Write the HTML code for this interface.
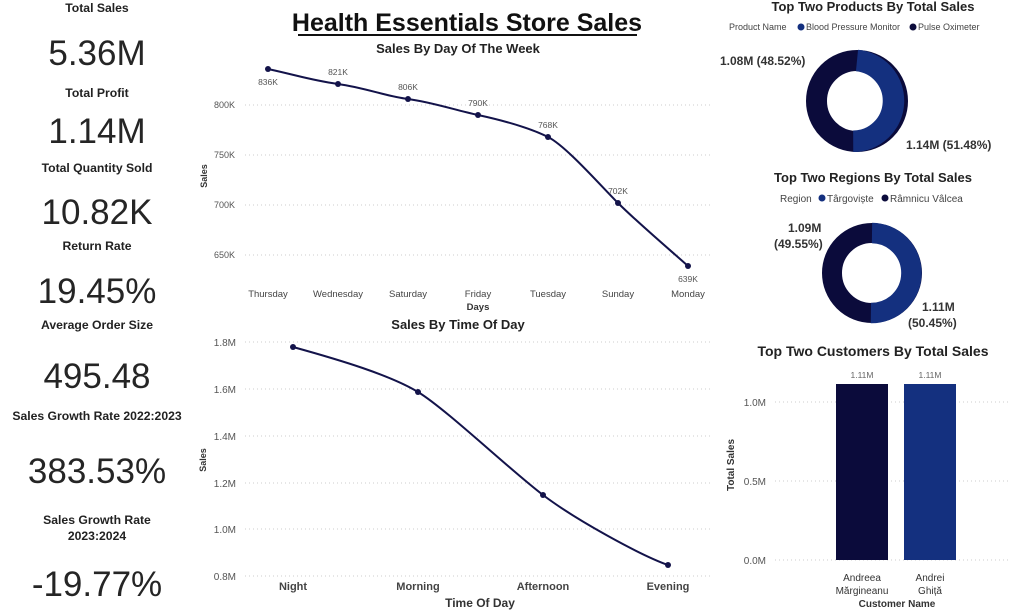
<!DOCTYPE html><html><head><style>body{margin:0;background:#fff}svg{display:block;font-family:"Liberation Sans",sans-serif}</style></head><body>
<svg width="1024" height="613" viewBox="0 0 1024 613">
<g text-anchor="middle" fill="#222">
<g font-weight="bold" font-size="12.2">
<text x="97" y="12">Total Sales</text><text x="97" y="97">Total Profit</text><text x="97" y="172">Total Quantity Sold</text><text x="97" y="250">Return Rate</text><text x="97" y="329">Average Order Size</text><text x="97" y="420">Sales Growth Rate 2022:2023</text><text x="97" y="524">Sales Growth Rate</text><text x="97" y="540">2023:2024</text></g>
<g font-size="35" fill="#252525">
<text x="97" y="65">5.36M</text><text x="97" y="143">1.14M</text><text x="97" y="224">10.82K</text><text x="97" y="303">19.45%</text><text x="97" y="388">495.48</text><text x="97" y="483">383.53%</text><text x="97" y="596">-19.77%</text></g>
<text x="467" y="31" font-size="25" font-weight="bold" fill="#111">Health Essentials Store Sales</text>
<line x1="298" y1="35" x2="637" y2="35" stroke="#111" stroke-width="2"/>
<text x="458" y="53" font-size="13" font-weight="bold">Sales By Day Of The Week</text>
<text x="458" y="329" font-size="13" font-weight="bold">Sales By Time Of Day</text>
<text x="873" y="11" font-size="13" font-weight="bold">Top Two Products By Total Sales</text>
<text x="873" y="182" font-size="13" font-weight="bold">Top Two Regions By Total Sales</text>
<text x="873" y="356" font-size="14" font-weight="bold">Top Two Customers By Total Sales</text>
</g>
<g font-size="9" fill="#555" text-anchor="end">
<text x="235" y="108">800K</text><text x="235" y="158">750K</text><text x="235" y="208">700K</text><text x="235" y="258">650K</text></g>
<g stroke="#ccc" stroke-dasharray="1,3"><line x1="245" y1="105" x2="710" y2="105"/><line x1="245" y1="155" x2="710" y2="155"/><line x1="245" y1="205" x2="710" y2="205"/><line x1="245" y1="255" x2="710" y2="255"/></g>
<text x="207" y="176" font-size="9" font-weight="bold" transform="rotate(-90 207 176)" text-anchor="middle" fill="#333">Sales</text>
<g font-size="9.5" fill="#444" text-anchor="middle">
<text x="268" y="297">Thursday</text><text x="338" y="297">Wednesday</text><text x="408" y="297">Saturday</text><text x="478" y="297">Friday</text><text x="548" y="297">Tuesday</text><text x="618" y="297">Sunday</text><text x="688" y="297">Monday</text>
<text x="478" y="310" font-weight="bold" fill="#333">Days</text></g>
<path d="M268 69 C300 76 310 80 338 84 S385 96 408 99 S455 110 478 115 S530 128 548 137 S600 185 618 203 S670 250 688 266" fill="none" stroke="#13134a" stroke-width="2"/>
<g fill="#13134a"><circle cx="268" cy="69" r="3"/><circle cx="338" cy="84" r="3"/><circle cx="408" cy="99" r="3"/><circle cx="478" cy="115" r="3"/><circle cx="548" cy="137" r="3"/><circle cx="618" cy="203" r="3"/><circle cx="688" cy="266" r="3"/></g>
<g font-size="8.5" fill="#555" text-anchor="middle"><text x="268" y="85">836K</text><text x="338" y="75">821K</text><text x="408" y="90">806K</text><text x="478" y="106">790K</text><text x="548" y="128">768K</text><text x="618" y="194">702K</text><text x="688" y="282">639K</text></g>
<g font-size="10" fill="#555" text-anchor="end">
<text x="236" y="346">1.8M</text><text x="236" y="393">1.6M</text><text x="236" y="440">1.4M</text><text x="236" y="487">1.2M</text><text x="236" y="533">1.0M</text><text x="236" y="580">0.8M</text></g>
<g stroke="#ccc" stroke-dasharray="1,3"><line x1="245" y1="342" x2="710" y2="342"/><line x1="245" y1="389" x2="710" y2="389"/><line x1="245" y1="436" x2="710" y2="436"/><line x1="245" y1="483" x2="710" y2="483"/><line x1="245" y1="529" x2="710" y2="529"/><line x1="245" y1="576" x2="710" y2="576"/></g>
<text x="206" y="460" font-size="9" font-weight="bold" transform="rotate(-90 206 460)" text-anchor="middle" fill="#333">Sales</text>
<g font-size="11" font-weight="bold" fill="#444" text-anchor="middle"><text x="293" y="590">Night</text><text x="418" y="590">Morning</text><text x="543" y="590">Afternoon</text><text x="668" y="590">Evening</text>
<text x="480" y="607" font-size="12" fill="#333">Time Of Day</text></g>
<path d="M293 347 C340 360 390 375 418 392 S510 470 543 495 S640 555 668 565" fill="none" stroke="#13134a" stroke-width="2"/>
<g fill="#13134a"><circle cx="293" cy="347" r="3"/><circle cx="418" cy="392" r="3"/><circle cx="543" cy="495" r="3"/><circle cx="668" cy="565" r="3"/></g>
<g font-size="9" fill="#444"><text x="729" y="30">Product Name</text><circle cx="801" cy="27" r="3.5" fill="#14307f"/><text x="806" y="30">Blood Pressure Monitor</text><circle cx="913" cy="27" r="3.5" fill="#0b0b3b"/><text x="918" y="30">Pulse Oximeter</text></g>
<circle cx="857" cy="101" r="40.5" fill="none" stroke="#0b0b3b" stroke-width="21"/>
<path d="M857 60.5 A40.5 40.5 0 0 1 853.2 141.3" fill="none" stroke="#14307f" stroke-width="21.5"/>
<g font-size="12" font-weight="bold" fill="#333"><text x="720" y="65">1.08M (48.52%)</text><text x="906" y="149">1.14M (51.48%)</text></g>
<g font-size="10" fill="#444"><text x="780" y="202">Region</text><circle cx="822" cy="198" r="3.5" fill="#14307f"/><text x="827" y="202">Târgoviște</text><circle cx="885" cy="198" r="3.5" fill="#0b0b3b"/><text x="890" y="202">Râmnicu Vâlcea</text></g>
<circle cx="872" cy="273" r="40" fill="none" stroke="#0b0b3b" stroke-width="20"/>
<path d="M872 233 A40 40 0 0 1 870.9 313" fill="none" stroke="#14307f" stroke-width="20.5"/>
<g font-size="12" font-weight="bold" fill="#333"><text x="788" y="232">1.09M</text><text x="774" y="248">(49.55%)</text><text x="922" y="311">1.11M</text><text x="908" y="327">(50.45%)</text></g>
<g font-size="10" fill="#555" text-anchor="end"><text x="766" y="406">1.0M</text><text x="766" y="485">0.5M</text><text x="766" y="564">0.0M</text></g>
<g stroke="#ccc" stroke-dasharray="1,3"><line x1="775" y1="402" x2="1010" y2="402"/><line x1="775" y1="481" x2="1010" y2="481"/><line x1="775" y1="560" x2="1010" y2="560"/></g>
<text x="734" y="465" font-size="10" font-weight="bold" transform="rotate(-90 734 465)" text-anchor="middle" fill="#333">Total Sales</text>
<rect x="836" y="384" width="52" height="176" fill="#0b0b3b"/><rect x="904" y="384" width="52" height="176" fill="#14307f"/>
<g font-size="8.5" fill="#666" text-anchor="middle"><text x="862" y="378">1.11M</text><text x="930" y="378">1.11M</text></g>
<g font-size="10" fill="#333" text-anchor="middle"><text x="862" y="581">Andreea</text><text x="862" y="594">Mărgineanu</text><text x="930" y="581">Andrei</text><text x="930" y="594">Ghiță</text><text x="897" y="607" font-weight="bold">Customer Name</text></g>
</svg></body></html>
